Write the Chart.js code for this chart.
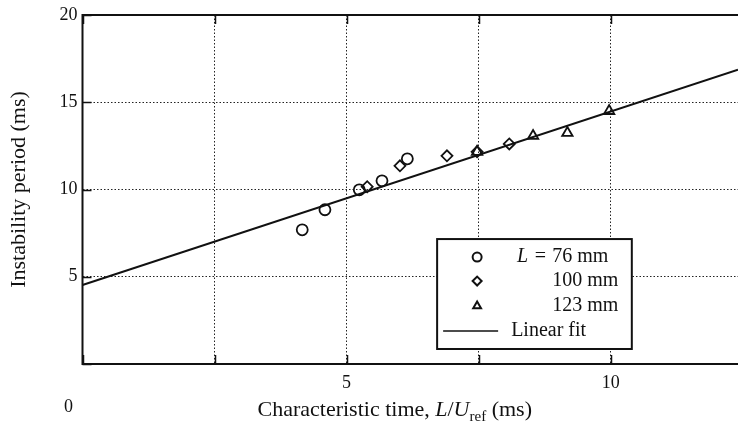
<!DOCTYPE html>
<html>
<head>
<meta charset="utf-8">
<script src="https://cdn.jsdelivr.net/npm/chart.js@4/dist/chart.umd.min.js"></script>
<style>
  html, body { margin: 0; padding: 0; background: #fff; }
  #wrap { width: 738px; height: 424px; }
</style>
</head>
<body>
<div id="wrap"><canvas id="c" width="738" height="424"></canvas></div>
<script>
// Measured instability periods for three chamber lengths
const circleX   = [4.16, 4.59, 5.24, 5.67, 6.15];          // L = 76 mm
const circleY   = [7.69, 8.84, 9.98, 10.50, 11.76];
const diamondX  = [5.39, 6.01, 6.90, 7.47, 8.08];          // 100 mm
const diamondY  = [10.16, 11.36, 11.93, 12.16, 12.61];
const triangleX = [7.47, 8.53, 9.18, 9.97];                // 123 mm
const triangleY = [12.16, 13.07, 13.24, 14.50];
// Linear fit, end points across the plotted range
const fitX = [0, 12.41];
const fitY = [4.53, 16.86];

// Axis ticks
const xTickValues = [0, 2.5, 5, 7.5, 10];
const xTickLabels = ['', '', '5', '', '10'];
const yTickValues = [0, 5, 10, 15, 20];
const yTickLabels = ['', '5', '10', '15', '20'];
const originLabel = '0';

// Legend and axis texts
const legendLabels = ['76 mm', '100 mm', '123 mm', 'Linear fit'];
const yTitle = 'Instability period (ms)';

const SERIF = '"Liberation Serif", "DejaVu Serif", serif';
const INK = '#111';

const toPts = (xs, ys) => xs.map((v, i) => ({ x: v, y: ys[i] }));

// Frame, inward ticks, titles and the boxed legend
const decorPlugin = {
  id: 'decor',
  afterDraw(chart) {
    const { ctx, chartArea: a, scales: { x, y } } = chart;
    ctx.save();
    ctx.strokeStyle = INK;
    ctx.fillStyle = INK;

    // axes frame: top, left, bottom
    ctx.lineWidth = 2;
    ctx.beginPath();
    ctx.moveTo(a.right, a.top);
    ctx.lineTo(a.left, a.top);
    ctx.lineTo(a.left, a.bottom);
    ctx.lineTo(a.right, a.bottom);
    ctx.stroke();

    // short solid ticks pointing inward
    ctx.lineWidth = 1.5;
    ctx.beginPath();
    xTickValues.forEach(v => {
      const px = Math.round(x.getPixelForValue(v)) + 0.5;
      ctx.moveTo(px, a.bottom); ctx.lineTo(px, a.bottom - 9);
      ctx.moveTo(px, a.top); ctx.lineTo(px, a.top + 9);
    });
    yTickValues.forEach(v => {
      const py = Math.round(y.getPixelForValue(v)) + 0.5;
      ctx.moveTo(a.left, py); ctx.lineTo(a.left + 9, py);
    });
    ctx.stroke();

    // shared origin label
    ctx.font = '18px ' + SERIF;
    ctx.textAlign = 'center';
    ctx.textBaseline = 'middle';
    ctx.fillText(originLabel, a.left - 14, a.bottom + 43);

    // x axis title with italic L/U and subscript "ref"
    const baseY = a.bottom + 52;
    let cx = a.left + 175;
    const parts = [
      { t: 'Characteristic time, ', f: '22px ' + SERIF, dy: 0 },
      { t: 'L', f: 'italic 22px ' + SERIF, dy: 0 },
      { t: '/', f: '22px ' + SERIF, dy: 0 },
      { t: 'U', f: 'italic 22px ' + SERIF, dy: 0 },
      { t: 'ref', f: '15px ' + SERIF, dy: 5 },
      { t: ' (ms)', f: '22px ' + SERIF, dy: 0 }
    ];
    ctx.textAlign = 'left';
    ctx.textBaseline = 'alphabetic';
    parts.forEach(p => {
      ctx.font = p.f;
      ctx.fillText(p.t, cx, baseY + p.dy);
      cx += ctx.measureText(p.t).width;
    });

    // y axis title
    ctx.save();
    ctx.translate(19, (a.top + a.bottom) / 2);
    ctx.rotate(-Math.PI / 2);
    ctx.font = '22px ' + SERIF;
    ctx.textAlign = 'center';
    ctx.textBaseline = 'middle';
    ctx.fillText(yTitle, 0, 0);
    ctx.restore();

    // legend box
    const w = a.right - a.left, h = a.bottom - a.top;
    const bl = a.left + 0.541 * w, br = a.left + 0.838 * w;
    const bt = a.top + 0.642 * h, bb = a.top + 0.957 * h;
    ctx.fillStyle = '#fff';
    ctx.fillRect(bl, bt, br - bl, bb - bt);
    ctx.strokeStyle = INK;
    ctx.lineWidth = 2;
    ctx.strokeRect(bl, bt, br - bl, bb - bt);

    const rows = [18, 42, 67, 92];
    const markX = bl + 40;
    const textL = bl + 115;
    const styles = ['circle', 'rectRot', 'triangle'];
    ctx.textBaseline = 'middle';
    for (let i = 0; i < 3; i++) {
      ctx.fillStyle = '#fff';
      ctx.strokeStyle = INK;
      ctx.lineWidth = 2;
      Chart.helpers.drawPoint(ctx, {
        pointStyle: styles[i], radius: 4.5, borderWidth: 2, rotation: 0
      }, markX, bt + rows[i]);
      ctx.fillStyle = INK;
      ctx.textAlign = 'left';
      ctx.font = '20px ' + SERIF;
      ctx.fillText(legendLabels[i], textL, bt + rows[i]);
      if (i === 0) {
        ctx.textAlign = 'right';
        ctx.fillText('=', textL - 6, bt + rows[i]);
        ctx.font = 'italic 20px ' + SERIF;
        ctx.fillText('L', textL - 24, bt + rows[i]);
      }
    }
    ctx.strokeStyle = INK;
    ctx.lineWidth = 1.5;
    ctx.beginPath();
    ctx.moveTo(bl + 6, bt + rows[3]);
    ctx.lineTo(bl + 61, bt + rows[3]);
    ctx.stroke();
    ctx.fillStyle = INK;
    ctx.textAlign = 'left';
    ctx.font = '20px ' + SERIF;
    ctx.fillText(legendLabels[3], bl + 74, bt + rows[3]);

    ctx.restore();
  }
};

const markerCommon = {
  showLine: false,
  backgroundColor: 'rgba(0,0,0,0)',
  borderColor: INK,
  pointBorderWidth: 1.8,
  pointBackgroundColor: 'rgba(255,255,255,0)',
  pointBorderColor: INK,
  pointHoverRadius: 6
};

new Chart(document.getElementById('c'), {
  type: 'scatter',
  data: {
    datasets: [
      Object.assign({ label: legendLabels[0], data: toPts(circleX, circleY), pointStyle: 'circle', pointRadius: 5.5 }, markerCommon),
      Object.assign({ label: legendLabels[1], data: toPts(diamondX, diamondY), pointStyle: 'rectRot', pointRadius: 5.5 }, markerCommon),
      Object.assign({ label: legendLabels[2], data: toPts(triangleX, triangleY), pointStyle: 'triangle', pointRadius: 6 }, markerCommon),
      {
        label: legendLabels[3],
        type: 'line',
        data: toPts(fitX, fitY),
        showLine: true,
        borderColor: INK,
        borderWidth: 2,
        pointRadius: 0,
        fill: false
      }
    ]
  },
  options: {
    responsive: false,
    devicePixelRatio: 1,
    animation: false,
    layout: { autoPadding: false, padding: { top: 15, right: 0, left: 0, bottom: 0 } },
    plugins: {
      legend: { display: false },
      tooltip: { enabled: false }
    },
    scales: {
      x: {
        type: 'linear',
        min: 0,
        max: 12.41,
        afterFit(s) { s.height = 60; s.paddingLeft = 0; s.paddingRight = 0; },
        afterBuildTicks(s) { s.ticks = xTickValues.map(v => ({ value: v })); },
        ticks: {
          includeBounds: false,
          autoSkip: false,
          maxRotation: 0,
          padding: 8,
          color: INK,
          font: { family: SERIF, size: 18 },
          callback: (v) => xTickLabels[xTickValues.indexOf(v)] ?? ''
        },
        grid: { color: '#222', lineWidth: 1, drawTicks: false },
        border: { display: false, dash: [1.5, 2] }
      },
      y: {
        type: 'linear',
        min: 0,
        max: 20,
        afterFit(s) { s.width = 82.5; s.paddingTop = 0; s.paddingBottom = 0; },
        afterBuildTicks(s) { s.ticks = yTickValues.map(v => ({ value: v })); },
        ticks: {
          autoSkip: false,
          padding: 5,
          color: INK,
          font: { family: SERIF, size: 18 },
          callback: (v) => yTickLabels[yTickValues.indexOf(v)] ?? ''
        },
        grid: { color: '#222', lineWidth: 1, drawTicks: false },
        border: { display: false, dash: [1.5, 2] }
      }
    }
  },
  plugins: [decorPlugin]
});
</script>
</body>
</html>
